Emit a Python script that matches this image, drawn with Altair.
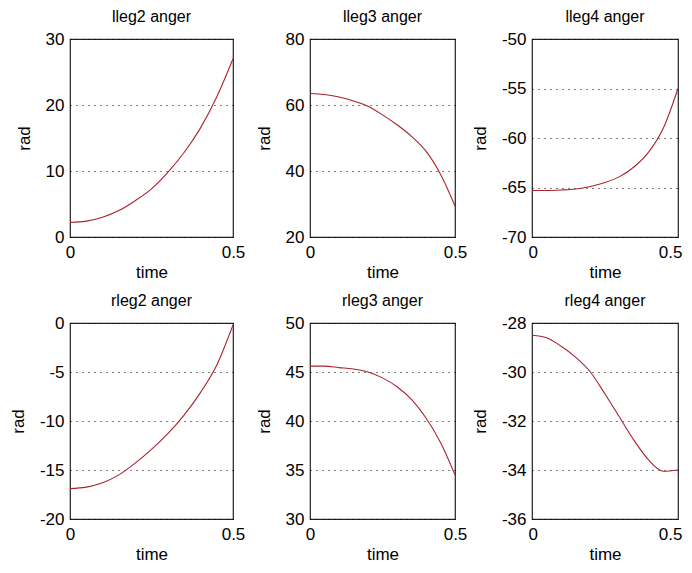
import altair as alt
import pandas as pd

time = [0.0, 0.05, 0.1, 0.15, 0.2, 0.25, 0.3, 0.35, 0.4, 0.45, 0.5]

lleg2 = [2.2, 2.4, 3.0, 4.0, 5.5, 7.3, 9.8, 12.8, 16.5, 21.2, 27.0]
lleg3 = [63.5, 63.2, 62.4, 61.2, 59.6, 57.0, 54.0, 50.5, 46.0, 39.0, 29.4]
lleg4 = [-65.3, -65.3, -65.25, -65.15, -64.9, -64.5, -63.9, -62.9, -61.4, -59.0, -55.0]
rleg2 = [-16.9, -16.75, -16.3, -15.5, -14.3, -12.9, -11.3, -9.4, -7.1, -4.3, -0.2]
rleg3 = [45.6, 45.6, 45.45, 45.3, 45.0, 44.4, 43.5, 42.2, 40.3, 37.8, 34.5]
rleg4 = [-28.5, -28.6, -28.95, -29.4, -30.0, -30.9, -31.85, -32.8, -33.6, -34.05, -34.0]

titles = ["lleg2 anger", "lleg3 anger", "lleg4 anger",
          "rleg2 anger", "rleg3 anger", "rleg4 anger"]
series = [lleg2, lleg3, lleg4, rleg2, rleg3, rleg4]
y_ticks = [
    [0, 10, 20, 30],
    [20, 40, 60, 80],
    [-70, -65, -60, -55, -50],
    [-20, -15, -10, -5, 0],
    [30, 35, 40, 45, 50],
    [-36, -34, -32, -30, -28],
]
x_ticks = [0, 0.5]

FONT = "Liberation Sans"
LINE = "#a8222c"


def panel(title, values, ticks, w, h, last_col):
    df = pd.DataFrame({"time": time, "rad": values})
    if last_col:
        xaxis = alt.Axis(values=x_ticks, title="time", grid=False,
                         labelExpr="'' + datum.value",
                         labelFlush=True, labelFlushOffset=4)
    else:
        xaxis = alt.Axis(values=x_ticks, title="time", grid=False,
                         labelExpr="'' + datum.value", labelFlush=False)
    return (
        alt.Chart(df, title=alt.Title(title, fontSize=16, fontWeight="normal",
                                      font=FONT, color="black", offset=5))
        .mark_line(color=LINE, strokeWidth=1.1, interpolate="monotone", clip=True)
        .encode(
            x=alt.X("time:Q",
                    scale=alt.Scale(domain=[x_ticks[0], x_ticks[-1]], nice=False, zero=False),
                    axis=xaxis),
            y=alt.Y("rad:Q",
                    scale=alt.Scale(domain=[ticks[0], ticks[-1]], nice=False, zero=False),
                    axis=alt.Axis(values=ticks, title="rad", grid=True,
                                  labelExpr="'' + datum.value")),
        )
        .properties(width=w, height=h)
    )


widths = [163, 145, 146]
heights = [198, 196]

panels = [panel(titles[i], series[i], y_ticks[i], widths[i % 3], heights[i // 3],
                i % 3 == 2)
          for i in range(6)]

chart = (
    alt.concat(*panels, columns=3, spacing={"row": 86, "column": 77}, bounds="flush")
    .properties(padding={"left": 0, "top": 0, "right": 0, "bottom": 0},
                background="white")
    .configure_view(stroke="#222222", strokeWidth=1.2)
    .configure_axis(
        domain=False, ticks=False,
        labelFont=FONT, labelFontSize=17, labelColor="black", labelPadding=6,
        labelFlush=False, labelOverlap=False,
        titleFont=FONT, titleFontSize=17, titleFontWeight="normal", titleColor="black",
        titlePadding=12,
        gridColor="black", gridDash=[1, 5], gridWidth=1, gridOpacity=1,
    )
    .configure_axisX(labelPadding=7, titlePadding=4)
)

chart.save("out.html", embed_options={"renderer": "svg", "actions": False})
